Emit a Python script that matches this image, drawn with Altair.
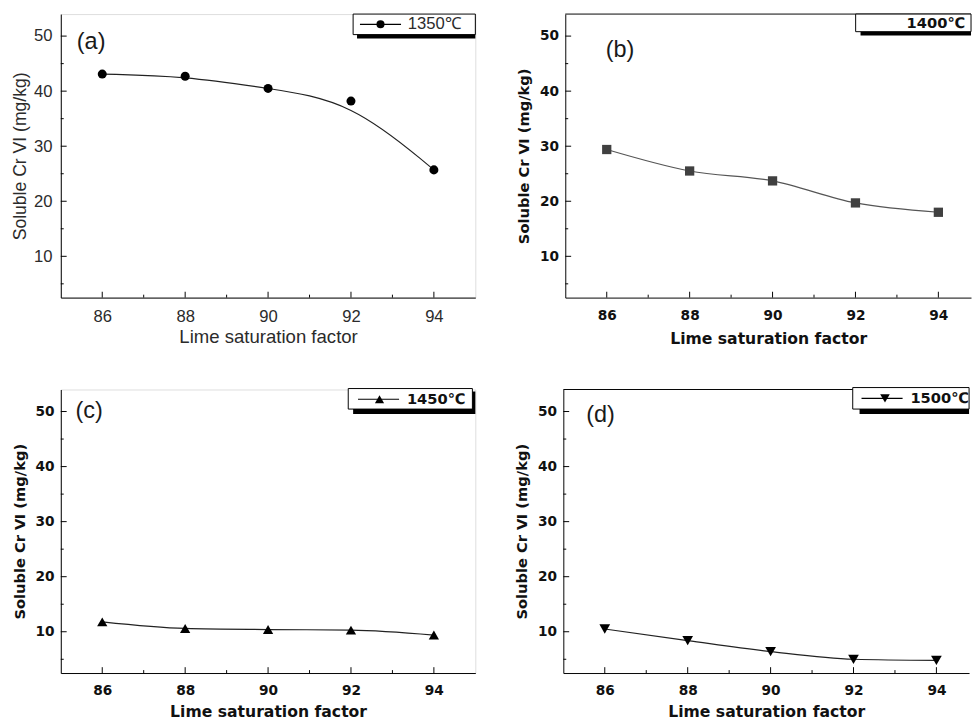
import altair as alt
import pandas as pd

# ---------------- data ----------------
lsf = [86, 88, 90, 92, 94]
cr_1350 = [43.1, 42.7, 40.5, 38.2, 25.7]
cr_1400 = [29.4, 25.5, 23.7, 19.7, 18.0]
cr_1450 = [11.8, 10.6, 10.4, 10.3, 9.4]
cr_1500 = [10.5, 8.4, 6.4, 5.0, 4.8]

panel_tags = ["(a)", "(b)", "(c)", "(d)"]
legend_labels = ["1350℃", "1400℃", "1450℃", "1500℃"]
x_title = "Lime saturation factor"
y_titles = ["Soluble Cr VI (mg/kg)", "Soluble Cr Ⅵ (mg/kg)",
            "Soluble Cr Ⅵ (mg/kg)", "Soluble Cr Ⅵ (mg/kg)"]

x_major = [86, 88, 90, 92, 94]
x_minor = [87, 89, 91, 93]
y_major = [10, 20, 30, 40, 50]
y_minor = [5, 15, 25, 35, 45]

H = 290


def one(df_dummy):
    return alt.Chart(df_dummy)


def panel(values, shape, mcolor, lcolor, msize, interp, tag, leg_text,
          y_title, W, xmax, style, leg, tag_pos, open_right):
    (font, weight, lab_size, ttl_size_x, ttl_size_y, tcolor,
     lab_pad_y, ttl_pad_y, lab_pad_x, ttl_pad_x) = style
    xscale = alt.Scale(domain=[85, xmax], nice=False, zero=False)
    yscale = alt.Scale(domain=[2.5, 54], nice=False, zero=False)
    df = pd.DataFrame({"x": lsf, "y": values})
    dummy = pd.DataFrame({"k": [0]})

    xaxis = alt.Axis(title=x_title, values=x_major, format="d", ticks=False, tickSize=0,
                     grid=False, domain=True, domainColor="black", domainWidth=1,
                     labelFont=font, labelFontWeight=weight, labelFontSize=lab_size,
                     labelColor=tcolor, labelPadding=lab_pad_x,
                     titleFont=font, titleFontWeight=weight, titleFontSize=ttl_size_x,
                     titleColor=tcolor, titlePadding=ttl_pad_x, labelFlush=False)
    yaxis = alt.Axis(title=y_title, values=y_major, format="d", ticks=False, tickSize=0,
                     grid=False, domain=True, domainColor="black", domainWidth=1,
                     labelFont=font, labelFontWeight=weight, labelFontSize=lab_size,
                     labelColor=tcolor, labelPadding=lab_pad_y,
                     titleFont=font, titleFontWeight=weight, titleFontSize=ttl_size_y,
                     titleColor=tcolor, titlePadding=ttl_pad_y, labelFlush=False)

    line = alt.Chart(df).mark_line(color=lcolor, strokeWidth=1.2, interpolate=interp).encode(
        x=alt.X("x:Q", scale=xscale, axis=xaxis),
        y=alt.Y("y:Q", scale=yscale, axis=yaxis),
    )
    pts = alt.Chart(df).mark_point(shape=shape, filled=True, size=msize, color=mcolor,
                                   opacity=1).encode(
        x=alt.X("x:Q", scale=xscale),
        y=alt.Y("y:Q", scale=yscale),
    )

    def xticks(vals, ln):
        return alt.Chart(pd.DataFrame({"x": vals})).mark_rule(color="black", strokeWidth=1).encode(
            x=alt.X("x:Q", scale=xscale),
            y=alt.value(H), y2=alt.value(H - ln))

    def yticks(vals, ln):
        return alt.Chart(pd.DataFrame({"y": vals})).mark_rule(color="black", strokeWidth=1).encode(
            y=alt.Y("y:Q", scale=yscale),
            x=alt.value(0), x2=alt.value(ln))

    layers = [line, pts, xticks(x_major, 6), xticks(x_minor, 3),
              yticks(y_major, 6), yticks(y_minor, 3)]

    if open_right:
        layers.append(one(dummy).mark_rule(color="black", strokeWidth=1).encode(
            x=alt.value(0), x2=alt.value(W), y=alt.value(0)))

    # legend box with drop shadow
    bx0, bx1, by0, by1, sx0, sx1, sh, lx0, lx1, ly, mx, tx, talign, tsize = leg
    layers.append(one(dummy).mark_rect(color="black").encode(
        x=alt.value(sx0), x2=alt.value(sx1),
        y=alt.value(by0 + 3), y2=alt.value(by1 + sh)))
    layers.append(one(dummy).mark_rect(fill="white", stroke="black", strokeWidth=1).encode(
        x=alt.value(bx0), x2=alt.value(bx1), y=alt.value(by0), y2=alt.value(by1)))
    if lx0 is not None:
        layers.append(one(dummy).mark_rule(color="black", strokeWidth=1.2).encode(
            x=alt.value(lx0), x2=alt.value(lx1), y=alt.value(ly)))
        layers.append(one(dummy).mark_point(shape=shape, filled=True, size=msize * 0.8,
                                            color=mcolor, opacity=1).encode(
            x=alt.value(mx), y=alt.value(ly)))
    layers.append(one(dummy).mark_text(align=talign, baseline="middle", font=font,
                                       fontWeight=weight, fontSize=tsize, color=tcolor).encode(
        x=alt.value(tx), y=alt.value(ly), text=alt.value(leg_text)))

    # panel tag
    layers.append(one(dummy).mark_text(align="center", baseline="middle",
                                       font="Liberation Sans", fontSize=24,
                                       color="#1a1a1a").encode(
        x=alt.value(tag_pos[0]), y=alt.value(tag_pos[1]), text=alt.value(tag)))

    ch = alt.layer(*layers).properties(width=W, height=H)
    if open_right:
        ch = ch.properties(view=alt.ViewBackground(stroke="transparent"))
    return ch


# font, weight, label size, x-title size, y-title size, colour,
# y label pad, y title pad, x label pad, x title pad
style_a = ("Liberation Sans", "normal", 17, 19, 18, "#2b2b2b", 9, 4, 11, 4)
style_b = ("DejaVu Sans", "bold", 14, 16, 15, "#111111", 7, 8, 11, 9)
style_c = ("DejaVu Sans", "bold", 14, 16, 15, "#111111", 7, 8, 11, 6)

WA = 424
WB = 415
XMAX_B = 85 + WB / 42.4

# bx0,bx1,by0,by1, shadow x0,x1, shadow extra, line x0,x1, line y, marker x, text x, align, text size
leg_a = (299, WA, 0, 21, 303, WA, 4, 306, 348, 10.5, 327, 355, "left", 17)
leg_b = (297, WB, 0, 18, 302, WB, 4, None, None, 9, None, 409, "right", 15)
leg_c = (294, 421, -1, 20, 299, 424, 5, 304, 346, 10, 326, 354, "left", 15)
leg_d = (296, WB, -2, 20, 303, WB, 5, 305, 347, 9, 329, 355, "left", 15)

pa = panel(cr_1350, "circle", "black", "#222222", 85, "basis", panel_tags[0], legend_labels[0],
           y_titles[0], WA, 95, style_a, leg_a, (31, 29), False)
pb = panel(cr_1400, "square", "#404040", "#555555", 90, "monotone", panel_tags[1], legend_labels[1],
           y_titles[1], WB, XMAX_B, style_b, leg_b, (56, 37), True)
pc = panel(cr_1450, "triangle-up", "black", "#222222", 110, "monotone", panel_tags[2], legend_labels[2],
           y_titles[2], WA, 95, style_c, leg_c, (29, 22), False)
pd_ = panel(cr_1500, "triangle-down", "black", "#222222", 120, "monotone", panel_tags[3], legend_labels[3],
            y_titles[3], WB, XMAX_B, style_c, leg_d, (38, 26), True)

top = alt.hconcat(pa, pb, spacing=41)
bottom = alt.hconcat(pc, pd_, spacing=39)
chart = alt.vconcat(top, bottom, spacing=40).properties(
    padding={"left": 3, "top": -3, "right": 0, "bottom": 0}
).configure_view(stroke="black", strokeWidth=1).configure(background="white")

chart.save("out.html", embed_options={"renderer": "svg", "actions": False})
